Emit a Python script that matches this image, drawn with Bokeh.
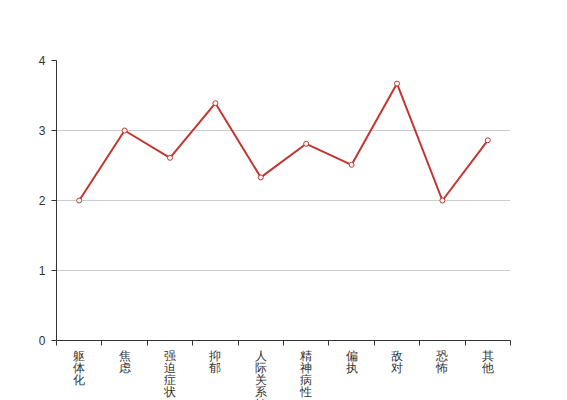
from bokeh.plotting import figure
from bokeh.models import FixedTicker, Range1d
from bokeh.embed import file_html
from bokeh.resources import INLINE

categories = ["躯体化", "焦虑", "强迫症状", "抑郁", "人际关系敏感", "精神病性", "偏执", "敌对", "恐怖", "其他"]
values = [2.0, 3.0, 2.61, 3.39, 2.33, 2.81, 2.51, 3.67, 2.0, 2.86]
y_ticks = [0, 1, 2, 3, 4]

n = len(categories)
xs = [i + 0.5 for i in range(n)]

p = figure(output_backend="svg", toolbar_location=None,
           width=551, height=392,
           x_range=Range1d(0, n), y_range=Range1d(0, 4),
           min_border_left=56, min_border_right=41, min_border_top=60, min_border_bottom=40)
p.frame_width = 454
p.frame_height = 280
p.outline_line_color = None
p.background_fill_color = "white"

p.line(xs, values, line_color="#c23531", line_width=2)
p.scatter(xs, values, size=5, fill_color="white", line_color="#c23531", line_width=1)

# x axis
p.xaxis.ticker = FixedTicker(ticks=xs, minor_ticks=list(range(n + 1)))
p.xaxis.major_label_overrides = {x: "\n".join(c) for x, c in zip(xs, categories)}
p.xaxis.major_tick_line_color = None
p.xaxis.minor_tick_out = 5
p.xaxis.minor_tick_in = 0
p.xaxis.minor_tick_line_color = "#333333"
p.xaxis.axis_line_color = "#333333"
p.xaxis.major_label_text_font_size = "11.5px"
p.xaxis.major_label_text_color = "#333333"
p.xaxis.major_label_text_font = "Liberation Sans"
p.xaxis.major_label_standoff = 3
p.xaxis.major_label_text_line_height = 1.0

# y axis
p.yaxis.ticker = FixedTicker(ticks=y_ticks, minor_ticks=[])
p.yaxis.major_tick_out = 5
p.yaxis.major_tick_in = 0
p.yaxis.major_tick_line_color = "#333333"
p.yaxis.axis_line_color = "#333333"
p.yaxis.major_label_text_font_size = "12px"
p.yaxis.major_label_text_color = "#333333"
p.yaxis.major_label_text_font = "Liberation Sans"
p.yaxis.major_label_standoff = 6

p.xgrid.grid_line_color = None
p.ygrid.grid_line_color = "#cccccc"
p.ygrid.ticker = FixedTicker(ticks=[1, 2, 3, 4])

open("out.html", "w").write(file_html(p, INLINE))
